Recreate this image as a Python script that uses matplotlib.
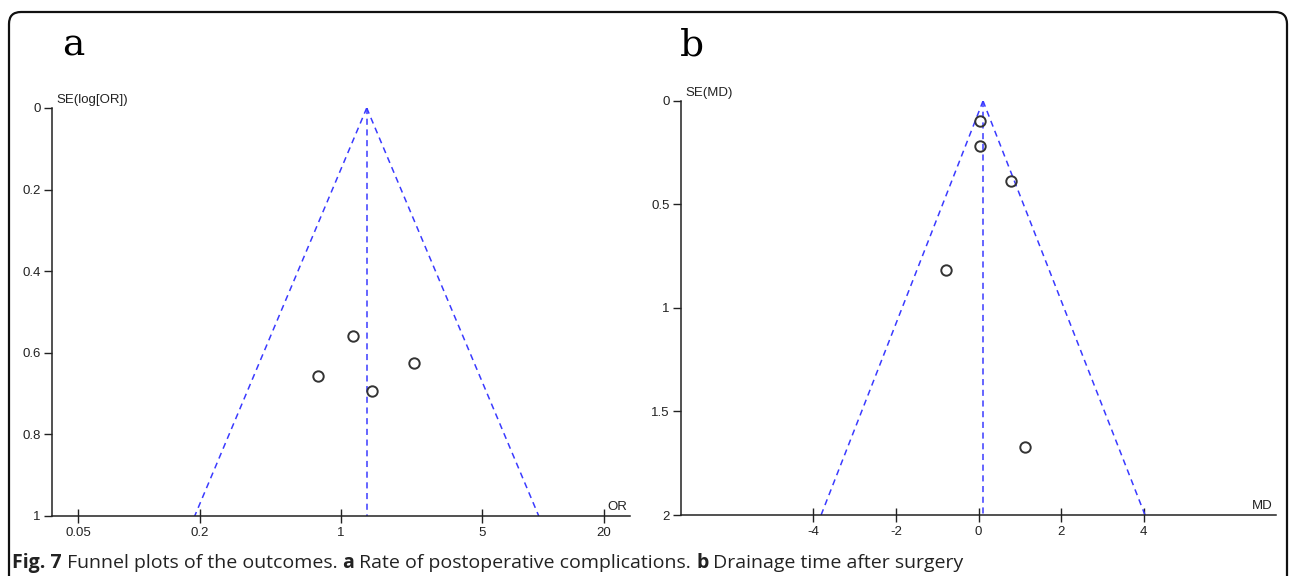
import matplotlib
matplotlib.use("Agg")
import matplotlib.pyplot as plt
import numpy as np
from matplotlib.patches import FancyBboxPatch
from matplotlib.transforms import IdentityTransform

# panel a: odds ratios (log scale) and their standard errors
or_values = [1.15, 0.77, 2.30, 1.42]
or_se = [0.559, 0.657, 0.625, 0.694]
or_pooled = 1.34
or_ticks = [0.05, 0.2, 1, 5, 20]
or_tick_labels = ["0.05", "0.2", "1", "5", "20"]
or_yticks = [0, 0.2, 0.4, 0.6, 0.8, 1]

# panel b: mean differences and their standard errors
md_values = [0.04, 0.04, 0.79, -0.79, 1.12]
md_se = [0.097, 0.217, 0.386, 0.816, 1.67]
md_pooled = 0.11
md_ticks = [-4, -2, 0, 2, 4]
md_yticks = [0, 0.5, 1, 1.5, 2]

BLUE = "#3a3aff"
TICK_FONT = ["Liberation Sans Narrow", "Liberation Sans", "DejaVu Sans"]

fig = plt.figure(figsize=(12.95, 5.76), dpi=100)


def style_axis(axis, x_name, y_name, y_top, yticks):
    for side in ("top", "right"):
        axis.spines[side].set_visible(False)
    for side in ("left", "bottom"):
        axis.spines[side].set_linewidth(1.1)
        axis.spines[side].set_color("#222222")
    axis.set_ylim(y_top, 0)
    axis.set_yticks(yticks)
    axis.set_yticklabels([f"{t:g}" for t in yticks])
    axis.tick_params(axis="y", direction="out", length=6, width=1.0, pad=2,
                     labelsize=9.5, colors="#222222")
    axis.tick_params(axis="x", direction="inout", length=10, width=1.0, pad=3,
                     labelsize=9.5, colors="#222222")
    for label in axis.get_xticklabels() + axis.get_yticklabels():
        label.set_family(TICK_FONT)
    axis.text(0.008, 1.005, y_name, transform=axis.transAxes, ha="left", va="bottom",
              fontsize=9.5, family=TICK_FONT, color="#222222")
    axis.text(0.995, 0.008, x_name, transform=axis.transAxes, ha="right", va="bottom",
              fontsize=9.5, family=TICK_FONT, color="#222222")


# ---- panel a
ax_a = fig.add_axes([0.0402, 0.1042, 0.4463, 0.7083])
ax_a.set_xscale("log")
ax_a.set_xlim(10 ** -1.43, 10 ** 1.43)
ax_a.minorticks_off()
se_line = np.array([0.0, 1.0])
log_pooled = np.log(or_pooled)
ax_a.plot(np.exp(log_pooled - 1.96 * se_line), se_line, ls=(0, (4, 3)), color=BLUE, lw=1.1)
ax_a.plot(np.exp(log_pooled + 1.96 * se_line), se_line, ls=(0, (4, 3)), color=BLUE, lw=1.1)
ax_a.plot([or_pooled, or_pooled], se_line, ls=(0, (4, 3)), color=BLUE, lw=1.1)
ax_a.plot(or_values, or_se, "o", ms=7.5, mfc="none", mec="#333333", mew=1.4)
ax_a.set_xticks(or_ticks)
ax_a.set_xticklabels(or_tick_labels)
style_axis(ax_a, "OR", "SE(log[OR])", 1.0, or_yticks)

# ---- panel b
ax_b = fig.add_axes([0.5259, 0.1059, 0.4594, 0.7188])
ax_b.set_xlim(-7.2, 7.2)
se_line_b = np.array([0.0, 2.0])
ax_b.plot(md_pooled - 1.96 * se_line_b, se_line_b, ls=(0, (4, 3)), color=BLUE, lw=1.1)
ax_b.plot(md_pooled + 1.96 * se_line_b, se_line_b, ls=(0, (4, 3)), color=BLUE, lw=1.1)
ax_b.plot([md_pooled, md_pooled], se_line_b, ls=(0, (4, 3)), color=BLUE, lw=1.1)
ax_b.plot(md_values, md_se, "o", ms=7.5, mfc="none", mec="#333333", mew=1.4)
ax_b.set_xticks(md_ticks)
ax_b.set_xticklabels([str(t) for t in md_ticks])
style_axis(ax_b, "MD", "SE(MD)", 2.0, md_yticks)

# panel letters
fig.text(62 / 1295, 1 - 45 / 576, "a", fontsize=27, family="DejaVu Serif", va="center")
fig.text(680 / 1295, 1 - 45 / 576, "b", fontsize=27, family="DejaVu Serif", va="center")

# rounded frame around the figure
frame = FancyBboxPatch((9, -20), 1278, 576 - 12 + 20,
                       boxstyle="round,pad=0,rounding_size=12",
                       transform=IdentityTransform(), fill=False,
                       edgecolor="#111111", lw=1.6)
fig.patches.append(frame)

# caption with bold parts
caption = [("Fig. 7", "bold"), (" Funnel plots of the outcomes. ", "normal"),
           ("a", "bold"), (" Rate of postoperative complications. ", "normal"),
           ("b", "bold"), (" Drainage time after surgery", "normal")]
fig.canvas.draw()
renderer = fig.canvas.get_renderer()
x_px = 12
for piece, weight in caption:
    t = fig.text(x_px / 1295, 1 - 563 / 576, piece, fontsize=14, weight=weight,
                 family=["Open Sans", "DejaVu Sans"], va="center", ha="left",
                 color="#222222")
    x_px += t.get_window_extent(renderer).width

fig.savefig("out.png", dpi=100, facecolor="white")
